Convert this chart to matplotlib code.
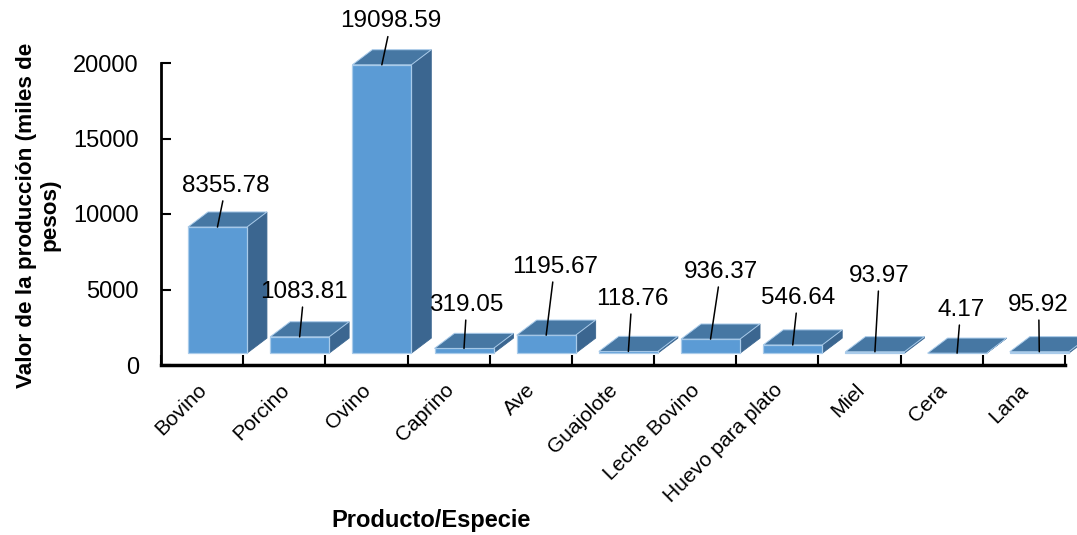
import matplotlib
matplotlib.use('Agg')
import matplotlib.pyplot as plt
from matplotlib.patches import Polygon, Rectangle
import numpy as np

plt.rcParams['font.family'] = ['Liberation Sans', 'DejaVu Sans']

# datos
categorias = ['Bovino', 'Porcino', 'Ovino', 'Caprino', 'Ave', 'Guajolote',
              'Leche Bovino', 'Huevo para plato', 'Miel', 'Cera', 'Lana']
valores = [8355.78, 1083.81, 19098.59, 319.05, 1195.67, 118.76,
           936.37, 546.64, 93.97, 4.17, 95.92]

# posicion de las etiquetas de valor (x en categorias, y en unidades del eje)
etiq_x = [0.29, 1.24, 2.30, 3.22, 4.29, 5.23, 6.31, 7.25, 8.24, 9.23, 10.18]
etiq_y = [11870, 4840, 22750, 3980, 6500, 4380, 6170, 4440, 5900, 3650, 3980]

# estilo "3D" tipo Excel
c_frente = '#5B9BD5'
c_arriba = '#4677A3'
c_lado = '#3B6690'
c_borde = '#A9CBEA'
base = 780      # el piso 3D queda un poco arriba del eje
dx = 0.243      # profundidad en x (categorias)
dy = 1000       # profundidad en y (unidades)
desp = -0.172   # inicio de la cara frontal respecto al centro
ancho = 0.718

fig = plt.figure(figsize=(10.77, 5.35), dpi=100)
ax = fig.add_axes([161 / 1077, 170 / 535, 904 / 1077, 302 / 535])
ax.set_xlim(-0.5, 10.5)
ax.set_ylim(0, 20000)

for i, v in enumerate(valores):
    l = i + desp
    r = l + ancho
    top = base + v
    ax.add_patch(Polygon([(r, base), (r + dx, base + dy), (r + dx, top + dy), (r, top)],
                         closed=True, fc=c_lado, ec=c_lado, lw=0.6, clip_on=False, zorder=2))
    ax.add_patch(Rectangle((l, base), ancho, v, fc=c_frente, ec=c_borde, lw=0.9,
                           clip_on=False, zorder=3))
    ax.add_patch(Polygon([(l, top), (r, top), (r + dx, top + dy), (l + dx, top + dy)],
                         closed=True, fc=c_arriba, ec=c_borde, lw=0.7, clip_on=False, zorder=3))
    ax.annotate(f"{v:.2f}", xy=(l + ancho / 2, top), xytext=(etiq_x[i], etiq_y[i]),
                ha='center', va='center', fontsize=17.5, annotation_clip=False,
                arrowprops=dict(arrowstyle='-', color='black', lw=1.1, shrinkA=1, shrinkB=0),
                zorder=5)

# ejes
for s in ['top', 'right']:
    ax.spines[s].set_visible(False)
ax.spines['left'].set_linewidth(2)
ax.spines['bottom'].set_linewidth(2.5)

ax.set_xticks(np.arange(-0.5, 11, 1))
ax.set_xticklabels([])
ax.set_yticks([0, 5000, 10000, 15000, 20000])
ax.set_yticklabels(['0', '5000', '10000', '15000', '20000'])
ax.tick_params(axis='x', direction='in', length=7, width=1.5)
ax.tick_params(axis='y', direction='in', length=7, width=1.5, labelsize=17, pad=16)

for i, nombre in enumerate(categorias):
    ax.annotate(nombre, xy=(i, 0), xycoords='data', xytext=(-3.5, -11),
                textcoords='offset points', rotation=45, ha='right', va='top',
                rotation_mode='anchor', fontsize=15, annotation_clip=False)

fig.text(38 / 1077, 1 - 215 / 535, 'Valor de la producción (miles de\npesos)',
         rotation=90, ha='center', va='center', fontsize=16.2, fontweight='bold',
         multialignment='center', linespacing=1.15)
fig.text(431 / 1077, 1 - 521 / 535, 'Producto/Especie', ha='center', va='center',
         fontsize=17, fontweight='bold')

fig.savefig('out.png', dpi=100)
